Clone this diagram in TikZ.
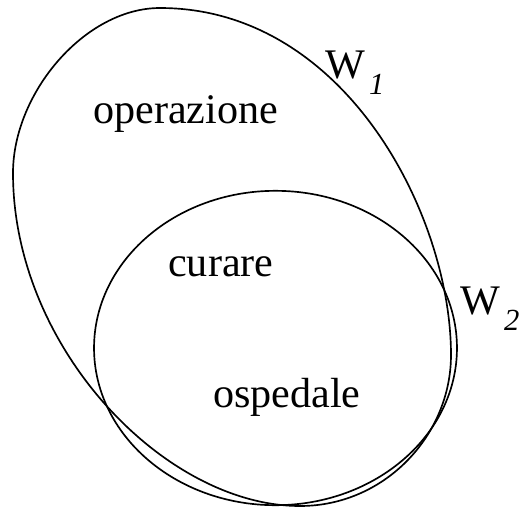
\documentclass[tikz,border=0pt]{standalone}
\usepackage{fontspec}
\setmainfont{Liberation Serif}
\usepackage{tikz}
\newcommand{\wsub}[1]{W\hspace{3pt}\raisebox{-12pt}{\fontsize{23}{26}\selectfont\itshape #1}}
\tikzset{
  ring/.style={line width=1.25pt, black},
  lbl/.style={font=\fontsize{31.6}{36}\selectfont, inner sep=0pt, anchor=base west},
}
\begin{document}
\begin{tikzpicture}[x=0.75pt, y=-0.75pt]
  \useasboundingbox (0,0) rectangle (522,508);
  % W1: the large tilted set
  \draw[ring] (160,8) .. controls (345,8) and (451,215) .. (451,355)
    .. controls (451,435) and (385,506) .. (300,506)
    .. controls (165,506) and (13,348) .. (13,173)
    .. controls (13,93) and (85,8) .. (160,8) -- cycle;
  % W2: the smaller set
  \draw[ring] (275.5,348) ellipse [x radius=136.1pt, y radius=117.9pt];
  \node[lbl] (oper) at (93,123) {operazione};
  \node[lbl] (cur) at (168,276) {curare};
  \node[lbl] (osp) at (213,407) {ospedale};
  \node[lbl] (w1) at (325,78) {\wsub{1}};
  \node[lbl] (w2) at (460,314) {\wsub{2}};
\end{tikzpicture}
\end{document}
